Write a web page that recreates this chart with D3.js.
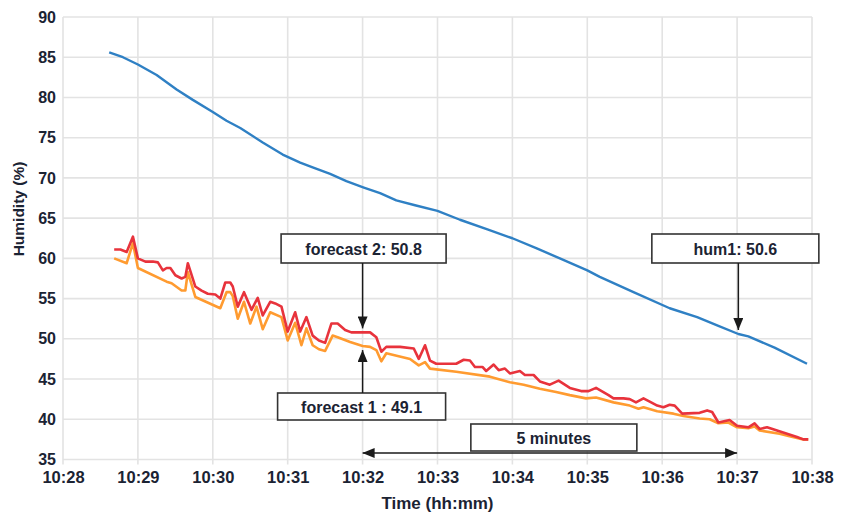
<!DOCTYPE html>
<html>
<head>
<meta charset="utf-8">
<script src="https://cdn.jsdelivr.net/npm/d3@7/dist/d3.min.js"></script>
<style>
  html, body { margin: 0; padding: 0; background: #fff; }
  svg { display: block; font-family: "Liberation Sans", Arial, sans-serif; }
</style>
</head>
<body>
<svg id="chart" width="841" height="514"></svg>
<script>
// Sample times are seconds after 10:28:00; values are relative humidity (%).
const hum1Sec = [37, 48, 60, 75, 91, 104, 120, 131, 142, 160, 176, 190, 200, 214, 227, 241, 254, 267, 282, 300, 318, 340, 360, 380, 398, 420, 430, 457, 486, 508, 525, 541, 549, 570, 596];
const hum1 = [85.6, 85.0, 84.1, 82.8, 81.0, 79.7, 78.2, 77.1, 76.2, 74.4, 72.9, 71.9, 71.3, 70.5, 69.6, 68.8, 68.1, 67.2, 66.6, 65.9, 64.8, 63.6, 62.5, 61.2, 60.0, 58.5, 57.7, 55.8, 53.8, 52.7, 51.6, 50.6, 50.3, 48.9, 46.9];

const forecast2Sec = [41, 46, 51, 56, 60, 66, 72, 76, 80, 83, 86, 90, 95, 98, 100, 106, 111, 116, 122, 126, 130, 134, 136, 140, 145, 151, 156, 160, 166, 170, 175, 180, 186, 190, 195, 200, 205, 210, 215, 220, 226, 231, 240, 246, 251, 255, 259, 270, 281, 285, 290, 294, 299, 315, 321, 326, 330, 336, 339, 345, 349, 354, 358, 366, 370, 377, 382, 390, 397, 406, 415, 421, 427, 437, 441, 449, 454, 459, 465, 470, 476, 481, 486, 490, 496, 510, 516, 520, 525, 534, 540, 549, 554, 558, 564, 572, 580, 588, 593, 597];
const forecast2 = [61.1, 61.1, 60.8, 62.7, 60.0, 59.6, 59.6, 59.5, 58.5, 58.8, 58.8, 57.9, 57.5, 57.7, 59.4, 56.5, 56.0, 55.6, 55.5, 55.0, 57.0, 57.0, 56.5, 54.0, 55.8, 53.6, 55.1, 52.9, 54.6, 54.4, 54.0, 50.9, 53.3, 50.9, 52.7, 50.4, 49.8, 49.5, 51.9, 51.9, 51.1, 50.8, 50.8, 50.8, 50.2, 48.4, 49.0, 49.0, 48.8, 47.5, 49.2, 47.3, 46.9, 46.9, 47.4, 47.3, 46.5, 46.5, 46.0, 46.8, 46.1, 46.3, 45.7, 46.0, 45.5, 45.5, 44.7, 44.3, 44.8, 43.9, 43.5, 43.5, 43.9, 43.0, 42.6, 42.6, 42.5, 42.1, 42.6, 42.2, 41.7, 41.5, 41.8, 41.7, 40.7, 40.8, 41.1, 40.9, 39.6, 39.9, 39.2, 39.0, 39.5, 38.8, 39.0, 38.6, 38.2, 37.8, 37.5, 37.5];

const forecast1Sec = [41, 51, 56, 60, 83, 87, 95, 98, 100, 106, 126, 131, 134, 136, 140, 145, 150, 155, 160, 166, 175, 180, 186, 191, 195, 200, 205, 210, 216, 220, 230, 240, 246, 251, 255, 259, 278, 285, 290, 294, 315, 342, 358, 369, 382, 395, 406, 419, 427, 441, 454, 461, 465, 476, 489, 497, 510, 518, 525, 533, 540, 549, 554, 558, 574, 582, 593, 597];
const forecast1 = [60.0, 59.4, 61.9, 58.8, 57.1, 56.9, 56.0, 56.0, 58.3, 55.2, 53.8, 55.8, 55.8, 55.3, 52.5, 54.6, 51.9, 54.0, 51.2, 53.3, 52.7, 49.8, 52.0, 49.2, 51.3, 49.2, 48.7, 48.5, 50.4, 50.2, 49.6, 49.1, 49.0, 48.6, 47.2, 48.2, 47.5, 46.7, 47.1, 46.3, 45.9, 45.3, 44.6, 44.3, 43.8, 43.4, 43.0, 42.6, 42.7, 42.1, 41.7, 41.3, 41.5, 41.0, 40.7, 40.4, 40.1, 40.0, 39.5, 39.6, 39.0, 38.9, 39.1, 38.6, 38.2, 37.9, 37.5, 37.5];

const yTicks = [35, 40, 45, 50, 55, 60, 65, 70, 75, 80, 85, 90];
const xTickLabels = ["10:28", "10:29", "10:30", "10:31", "10:32", "10:33", "10:34", "10:35", "10:36", "10:37", "10:38"];

// Callouts: time of the pointed sample (seconds), label text
const calloutForecast2 = { sec: 240, label: "forecast 2: 50.8", value: 50.8 };
const calloutForecast1 = { sec: 240, label: "forecast 1 : 49.1", value: 49.1 };
const calloutHum1 = { sec: 541, label: "hum1: 50.6", value: 50.6 };
const spanLabel = { from: "10:32", to: "10:37", label: "5 minutes" };

const base = new Date(2020, 0, 1, 10, 28, 0);
const toDate = s => new Date(base.getTime() + s * 1000);
const parseHM = d3.timeParse("%H:%M");
const hmDate = str => { const t = parseHM(str); return new Date(2020, 0, 1, t.getHours(), t.getMinutes(), 0); };

const margin = { left: 63, right: 29, top: 17, bottom: 54 };
const W = 841, H = 514;
const svg = d3.select("#chart");

const x = d3.scaleTime()
  .domain([hmDate(xTickLabels[0]), hmDate(xTickLabels[xTickLabels.length - 1])])
  .range([margin.left, W - margin.right]);
const y = d3.scaleLinear().domain([35, 90]).range([H - margin.bottom - 0.5, margin.top]);

const textColor = "#1b2333";
const gridColor = "#e3e3e3";

// gridlines
svg.append("g").selectAll("line.h").data(yTicks).join("line")
  .attr("x1", margin.left).attr("x2", W - margin.right)
  .attr("y1", d => y(d)).attr("y2", d => y(d))
  .attr("stroke", gridColor).attr("stroke-width", 1.6);
svg.append("g").selectAll("line.v").data(xTickLabels).join("line")
  .attr("x1", d => x(hmDate(d))).attr("x2", d => x(hmDate(d)))
  .attr("y1", margin.top).attr("y2", y(35) + 5)
  .attr("stroke", gridColor).attr("stroke-width", 1.6);

// axes (labels only; lines are the gridlines)
const yAxis = d3.axisLeft(y).tickValues(yTicks).tickSize(0).tickPadding(7);
svg.append("g").attr("transform", `translate(${margin.left},0)`).call(yAxis)
  .call(g => g.select(".domain").remove())
  .selectAll("text").attr("fill", textColor).style("font-size", "16px").style("font-weight", "bold")
  .attr("font-family", null);
const xAxis = d3.axisBottom(x).tickValues(xTickLabels.map(hmDate)).tickFormat(d3.timeFormat("%H:%M")).tickSize(0).tickPadding(12);
svg.append("g").attr("transform", `translate(0,${y(35)})`).call(xAxis)
  .call(g => g.select(".domain").remove())
  .selectAll("text").attr("fill", textColor).style("font-size", "16.5px").style("font-weight", "bold")
  .attr("font-family", null);

// axis titles
svg.append("text").attr("x", (margin.left + W - margin.right) / 2).attr("y", 509)
  .attr("text-anchor", "middle").attr("fill", textColor)
  .style("font-size", "17px").style("font-weight", "bold").text("Time (hh:mm)");
svg.append("text").attr("transform", "translate(24,209) rotate(-90)")
  .attr("text-anchor", "middle").attr("fill", textColor)
  .style("font-size", "15.5px").style("font-weight", "bold").text("Humidity (%)");

// series
const line = d3.line().x(d => x(toDate(d[0]))).y(d => y(d[1]));
const zip = (a, b) => a.map((s, i) => [s, b[i]]);
svg.append("path").datum(zip(forecast1Sec, forecast1)).attr("d", line)
  .attr("fill", "none").attr("stroke", "#ff9b30").attr("stroke-width", 2.6).attr("stroke-linejoin", "round");
svg.append("path").datum(zip(forecast2Sec, forecast2)).attr("d", line)
  .attr("fill", "none").attr("stroke", "#e8333c").attr("stroke-width", 2.6).attr("stroke-linejoin", "round");
svg.append("path").datum(zip(hum1Sec, hum1)).attr("d", line)
  .attr("fill", "none").attr("stroke", "#2f80c4").attr("stroke-width", 2.4).attr("stroke-linejoin", "round");

// arrow marker
const defs = svg.append("defs");
defs.append("marker").attr("id", "arrow").attr("viewBox", "0 0 12 10")
  .attr("refX", 12).attr("refY", 5).attr("markerWidth", 12).attr("markerHeight", 10)
  .attr("markerUnits", "userSpaceOnUse").attr("orient", "auto-start-reverse")
  .append("path").attr("d", "M0,0 L12,5 L0,10 Z").attr("fill", "#1a1a1a");

const ink = "#1a1a1a";
function box(cx, top, w, h, label) {
  svg.append("rect").attr("x", cx - w / 2).attr("y", top).attr("width", w).attr("height", h)
    .attr("fill", "#fff").attr("stroke", "#333").attr("stroke-width", 1.6);
  svg.append("text").attr("x", cx).attr("y", top + h / 2 + 6)
    .attr("text-anchor", "middle").attr("fill", textColor)
    .style("font-size", "16px").style("font-weight", "bold").text(label);
}
function arrow(x1, y1, x2, y2) {
  svg.append("line").attr("x1", x1).attr("y1", y1).attr("x2", x2).attr("y2", y2)
    .attr("stroke", ink).attr("stroke-width", 1.5).attr("marker-end", "url(#arrow)");
}

// forecast 2 callout (above, pointing down)
{
  const ax = x(toDate(calloutForecast2.sec));
  box(ax + 1, 234, 165, 29, calloutForecast2.label);
  arrow(ax, 263, ax, y(calloutForecast2.value) - 4);
}
// forecast 1 callout (below, pointing up)
{
  const ax = x(toDate(calloutForecast1.sec));
  box(ax - 1, 393, 168, 27, calloutForecast1.label);
  arrow(ax, 393, ax, y(calloutForecast1.value) + 4);
}
// hum1 callout
{
  const ax = x(toDate(calloutHum1.sec));
  box(ax - 3, 234, 167, 29, calloutHum1.label);
  arrow(ax, 263, ax, y(calloutHum1.value) - 4);
}
// 5-minute span
{
  const x1 = x(hmDate(spanLabel.from)), x2 = x(hmDate(spanLabel.to));
  const yy = 453;
  svg.append("line").attr("x1", x1).attr("y1", yy).attr("x2", x2).attr("y2", yy)
    .attr("stroke", ink).attr("stroke-width", 1.5)
    .attr("marker-start", "url(#arrow)").attr("marker-end", "url(#arrow)");
  box((x1 + x2) / 2 + 4, 424, 166, 27, spanLabel.label);
}
</script>
</body>
</html>
